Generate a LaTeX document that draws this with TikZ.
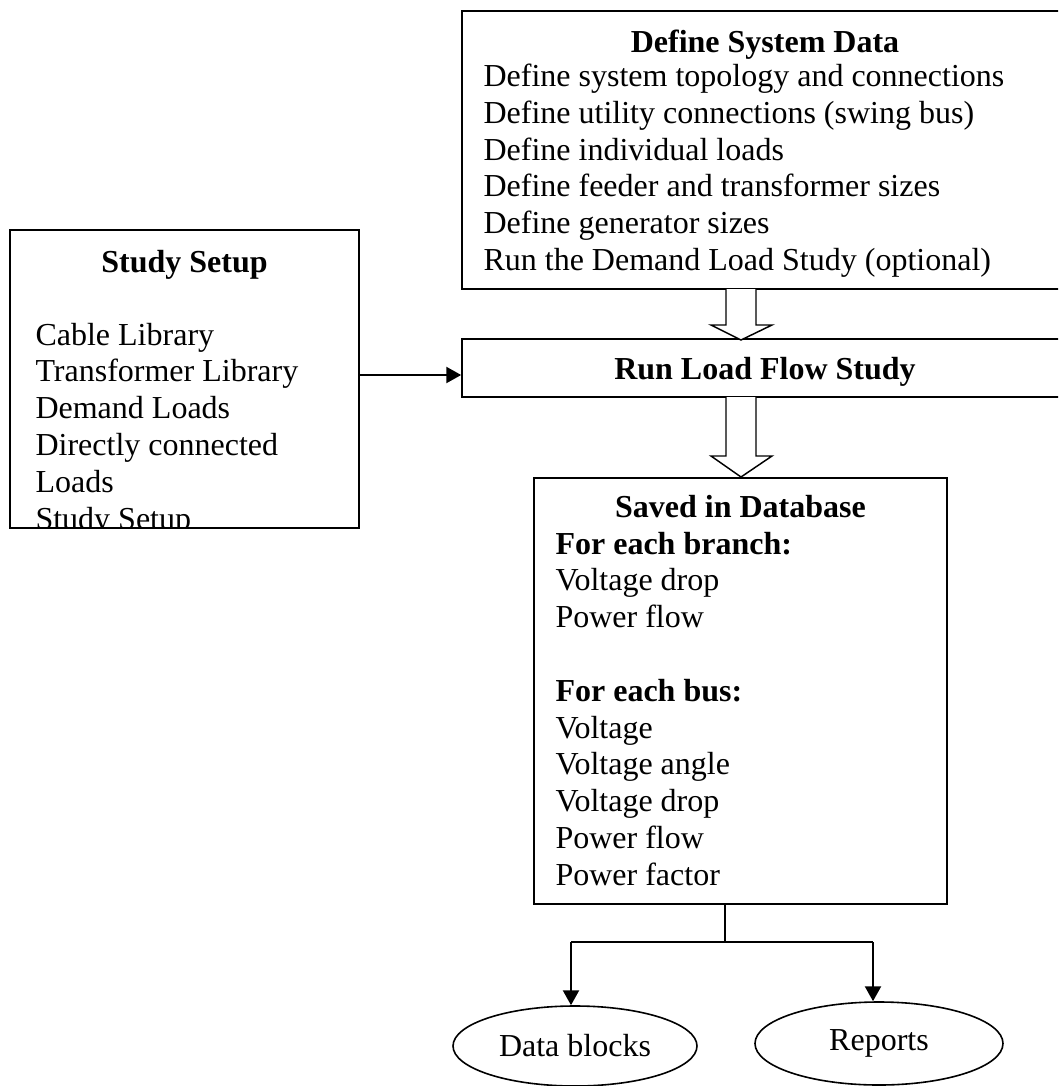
\documentclass[tikz,border=0pt]{standalone}
\usepackage{fontspec}
\setmainfont{Liberation Serif}
\usetikzlibrary{arrows.meta,shapes.geometric,fit}
\begin{document}
\begin{tikzpicture}[x=0.375pt,y=-0.375pt,
  box/.style={draw,line width=0.6pt,inner sep=0pt},
  txt/.style={inner sep=0pt,font=\fontsize{12}{13.8}\selectfont,align=left},
  ttl/.style={inner sep=0pt,font=\fontsize{12}{13.8}\selectfont\bfseries},
  conn/.style={line width=0.85pt,-{Triangle[length=5.6pt,width=6pt]}},
  hollow/.style={draw,line width=0.55pt,fill=white,line join=miter},
  oval/.style={ellipse,draw,line width=0.6pt,inner sep=0pt,font=\fontsize{12}{13.8}\selectfont}
]
\clip (0,0) rectangle (1058,1086);
\fill[white] (0,0) rectangle (1058,1086);

% Define System Data (multi-line nodes are anchored at the baseline of their last line)
\node[box,fit={(462,11)(1068,289)}] (def) {};
\node[ttl,anchor=base] (deft) at (765,52) {Define System Data};
\node[txt,anchor=base west] (defb) at (483,270.5) {Define system topology and connections\\Define utility connections (swing bus)\\Define individual loads\\Define feeder and transformer sizes\\Define generator sizes\\Run the Demand Load Study (optional)};

% Run Load Flow Study
\node[box,fit={(462,339)(1068,397)}] (run) {};
\node[ttl,anchor=base] (runt) at (765,379) {Run Load Flow Study};

% Study Setup
\begin{scope}
\clip (10,230) rectangle (359,528);
\node[txt,anchor=base west] (stb) at (35,529) {Cable Library\\Transformer Library\\Demand Loads\\Directly connected\\Loads\\Study Setup};
\end{scope}
\node[box,fit={(10,230)(359,528)}] (study) {};
\node[ttl,anchor=base] (stt) at (184.5,272) {Study Setup};

% Saved in Database
\node[box,fit={(534,478)(947,904)}] (saved) {};
\node[ttl,anchor=base] (savt) at (740.5,517) {Saved in Database};
\node[txt,anchor=base west] (savb) at (555,885.2) {\textbf{For each branch:}\\Voltage drop\\Power flow\\[13.8pt]\textbf{For each bus:}\\Voltage\\Voltage angle\\Voltage drop\\Power flow\\Power factor};

% hollow block arrows
\draw[hollow] (726,289) -- (726,325) -- (711,325) -- (741,340) -- (772,325) -- (756,325) -- (756,289);
\draw[hollow] (726,397) -- (726,456) -- (711,456) -- (741,477) -- (772,456) -- (756,456) -- (756,397);

% study -> run
\draw[conn] ([yshift=1.5pt]study.east) -- ([yshift=1.5pt]study.east -| run.west);

% outputs
\node[oval,minimum width=244*0.375pt,minimum height=80*0.375pt] (data) at (575,1046) {Data blocks};
\node[oval,minimum width=248*0.375pt,minimum height=83*0.375pt] (rep) at (879,1043.5) {Reports};
\coordinate (split) at (725,942);
\coordinate (jl) at (571,942);
\coordinate (jr) at (873,942);
\draw[line width=0.45pt] (split |- saved.south) -- (split);
\draw[line width=0.85pt] (jl) -- (jr);
\draw[conn] (jl) -- (jl |- data.north);
\draw[conn] (jr) -- (jr |- rep.north);
\end{tikzpicture}
\end{document}
